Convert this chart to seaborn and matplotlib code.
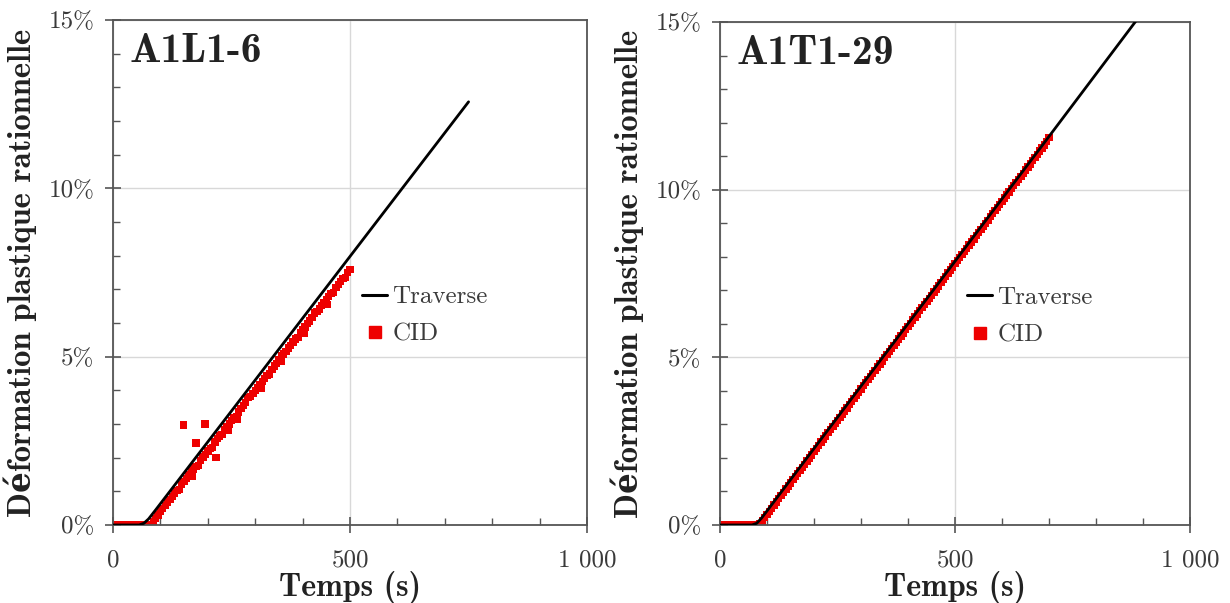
import matplotlib
matplotlib.use("Agg")
import matplotlib.pyplot as plt
from matplotlib.ticker import MultipleLocator
from matplotlib.lines import Line2D
import seaborn as sns
import pandas as pd

# ---------------- data ----------------
titles = ["A1L1-6", "A1T1-29"]

# Traverse (crosshead) curves
trav_L_t = [0, 55, 65, 75, 90, 750]
trav_L_e = [0.0, 0.0, 0.05, 0.18, 0.45, 12.57]
trav_R_t = [0, 68, 78, 88, 100, 886]
trav_R_e = [0.0, 0.0, 0.05, 0.2, 0.42, 15.05]

# CID (DIC) measurements, left specimen
cid_L_t = [0, 5, 10, 15, 20, 25, 30, 35, 40, 45, 50, 55, 60, 65, 70, 75, 80,
           85, 90, 95, 100, 105, 110, 115, 120, 125, 130, 135, 140, 145, 150,
           155, 160, 165, 170, 175, 180, 185, 190, 195, 200, 205, 210, 215, 220,
           225, 230, 235, 240, 245, 250, 255, 260, 265, 270, 275, 280, 285, 290,
           295, 300, 305, 310, 315, 320, 325, 330, 335, 340, 345, 350, 355, 360,
           365, 370, 375, 380, 385, 390, 395, 400, 405, 410, 415, 420, 425, 430,
           435, 440, 445, 450, 455, 460, 465, 470, 475, 480, 485, 490, 495, 500,
           148, 194, 175, 217, 168, 243, 262, 312, 356, 404, 452]
cid_L_e = [0, 0, 0, 0, 0, 0, 0, 0, 0, 0, 0, 0, 0, 0, 0, 0, 0.02,
           0.1, 0.2, 0.3, 0.4, 0.48, 0.58, 0.66, 0.76, 0.84, 0.94, 1.02, 1.05, 1.2, 1.3,
           1.38, 1.48, 1.62, 1.66, 1.74, 1.76, 1.92, 2.02, 2.1, 2.2, 2.28, 2.3, 2.46, 2.56,
           2.64, 2.68, 2.82, 2.92, 3.0, 3.1, 3.18, 3.22, 3.36, 3.46, 3.54, 3.64, 3.78, 3.82,
           3.9, 4.0, 4.08, 4.18, 4.26, 4.36, 4.44, 4.48, 4.62, 4.72, 4.8, 4.9, 5.04, 5.08,
           5.16, 5.26, 5.34, 5.44, 5.52, 5.56, 5.7, 5.8, 5.88, 5.98, 6.06, 6.16, 6.3, 6.34,
           6.42, 6.52, 6.6, 6.7, 6.78, 6.88, 6.9, 7.06, 7.14, 7.24, 7.32, 7.36, 7.5, 7.58,
           2.97, 3.0, 2.43, 2.0, 1.45, 2.8, 3.15, 4.05, 4.85, 5.7, 6.55]

# CID measurements, right specimen
cid_R_t = [0, 5, 10, 15, 20, 25, 30, 35, 40, 45, 50, 55, 60, 65, 70, 75, 80,
           85, 90, 95, 100, 105, 110, 115, 120, 125, 130, 135, 140, 145, 150,
           155, 160, 165, 170, 175, 180, 185, 190, 195, 200, 205, 210, 215, 220,
           225, 230, 235, 240, 245, 250, 255, 260, 265, 270, 275, 280, 285, 290,
           295, 300, 305, 310, 315, 320, 325, 330, 335, 340, 345, 350, 355, 360,
           365, 370, 375, 380, 385, 390, 395, 400, 405, 410, 415, 420, 425, 430,
           435, 440, 445, 450, 455, 460, 465, 470, 475, 480, 485, 490, 495, 500,
           505, 510, 515, 520, 525, 530, 535, 540, 545, 550, 555, 560, 565, 570,
           575, 580, 585, 590, 595, 600, 605, 610, 615, 620, 625, 630, 635, 640,
           645, 650, 655, 660, 665, 670, 675, 680, 685, 690, 695, 700]
cid_R_e = [0, 0, 0, 0, 0, 0, 0, 0, 0, 0, 0, 0, 0, 0, 0, 0, 0.01,
           0.04, 0.12, 0.22, 0.32, 0.41, 0.50, 0.60, 0.69, 0.79, 0.88, 0.97, 1.07, 1.16, 1.25,
           1.35, 1.44, 1.53, 1.63, 1.72, 1.81, 1.91, 2.00, 2.09, 2.19, 2.28, 2.37, 2.47, 2.56,
           2.65, 2.75, 2.84, 2.93, 3.03, 3.12, 3.21, 3.31, 3.40, 3.49, 3.59, 3.68, 3.77, 3.87,
           3.96, 4.05, 4.15, 4.24, 4.33, 4.43, 4.52, 4.61, 4.71, 4.80, 4.89, 4.99, 5.08, 5.17,
           5.27, 5.36, 5.45, 5.55, 5.64, 5.73, 5.83, 5.92, 6.01, 6.11, 6.20, 6.29, 6.39, 6.48,
           6.57, 6.67, 6.76, 6.85, 6.95, 7.04, 7.13, 7.23, 7.32, 7.41, 7.51, 7.60, 7.69, 7.79,
           7.88, 7.97, 8.07, 8.16, 8.25, 8.35, 8.44, 8.53, 8.63, 8.72, 8.81, 8.91, 9.00, 9.09,
           9.19, 9.28, 9.37, 9.47, 9.56, 9.65, 9.75, 9.84, 9.93, 10.03, 10.12, 10.21, 10.31, 10.40,
           10.49, 10.59, 10.68, 10.77, 10.87, 10.96, 11.05, 11.15, 11.24, 11.33, 11.43, 11.55]

x_ticks = [0, 500, 1000]
x_tick_labels = ["0", "500", "1 000"]
y_ticks = [0, 5, 10, 15]
y_tick_labels = ["0%", "5%", "10%", "15%"]

# ---------------- style ----------------
sns.set_theme(style="white")
plt.rcParams["font.family"] = ["cmr10", "DejaVu Serif"]
plt.rcParams["axes.unicode_minus"] = False

SPINE = "#555555"
TXT = "#3a3a3a"
RED = "#ee0000"
BOLD = ["cmb10", "DejaVu Serif"]

fig = plt.figure(figsize=(12.3, 6.03), dpi=100)
axL = fig.add_axes([0.0919, 0.1294, 0.3854, 0.8374])
axR = fig.add_axes([0.5854, 0.1294, 0.3821, 0.8341])

panels = [
    (axL, titles[0], trav_L_t, trav_L_e, cid_L_t, cid_L_e),
    (axR, titles[1], trav_R_t, trav_R_e, cid_R_t, cid_R_e),
]

for ax, title, tt, te, ct, ce in panels:
    df_t = pd.DataFrame({"t": tt, "e": te})
    df_c = pd.DataFrame({"t": ct, "e": ce})
    ax.set_axisbelow(True)
    ax.grid(True, which="major", color="#d8d8d8", lw=1.0)
    sns.scatterplot(data=df_c, x="t", y="e", ax=ax, marker="s", s=28,
                    color=RED, edgecolor="none", zorder=2, legend=False)
    sns.lineplot(data=df_t, x="t", y="e", ax=ax, color="black", lw=2.0,
                 zorder=3, legend=False)
    ax.set_xlim(0, 1000)
    ax.set_ylim(0, 15)
    ax.set_xticks(x_ticks)
    ax.set_xticklabels(x_tick_labels)
    ax.set_yticks(y_ticks)
    ax.set_yticklabels(y_tick_labels)
    ax.xaxis.set_minor_locator(MultipleLocator(100))
    ax.yaxis.set_minor_locator(MultipleLocator(1))
    ax.tick_params(which="both", bottom=True, left=True, top=False, right=False)
    ax.tick_params(which="major", direction="inout", length=11, width=1.2,
                   color=SPINE, labelsize=18, labelcolor=TXT)
    ax.tick_params(which="minor", direction="in", length=5, width=1.0,
                   color=SPINE)
    ax.tick_params(axis="x", which="major", pad=12)
    ax.tick_params(axis="y", which="major", pad=8)
    for sp in ax.spines.values():
        sp.set_color(SPINE)
        sp.set_linewidth(1.3)
        sp.set_visible(True)
    ax.set_xlabel("Temps (s)", fontsize=23, fontweight="bold",
                  family=BOLD, color="#222222", labelpad=0)
    ax.set_ylabel("Déformation plastique rationnelle", fontsize=23.5,
                  fontweight="bold", family=BOLD,
                  color="#222222", labelpad=8)
    ax.text(0.035, 0.975, title, transform=ax.transAxes, ha="left", va="top",
            fontsize=30, fontweight="bold", family=BOLD, color="#222222")
    handles = [Line2D([0], [0], color="black", lw=2.2),
               Line2D([0], [0], color=RED, marker="s", ls="none", markersize=8.5)]
    leg = ax.legend(handles, ["Traverse", "CID"], loc="center left",
                    bbox_to_anchor=(0.505, 0.414), frameon=False, fontsize=18,
                    handlelength=1.0, handletextpad=0.2, labelspacing=0.6,
                    borderaxespad=0)
    for t in leg.get_texts():
        t.set_color(TXT)

fig.savefig("out.png", dpi=100, facecolor="white")
